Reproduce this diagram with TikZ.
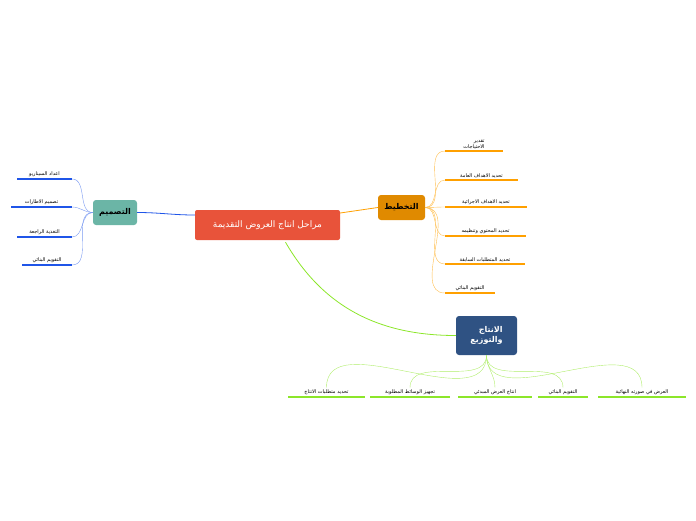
\documentclass[tikz,border=0pt]{standalone}
\usepackage{fontspec}
\setmainfont{Liberation Sans}
\newfontfamily\arabicfont[Script=Arabic]{DejaVu Sans}
\TeXXeTstate=1
\usetikzlibrary{positioning,calc}
\definecolor{rootred}{HTML}{E8533A}
\definecolor{planorange}{HTML}{E08A00}
\definecolor{designteal}{HTML}{6BB5A6}
\definecolor{prodblue}{HTML}{2F5283}
\definecolor{lineorange}{HTML}{FFA000}
\definecolor{lineblue}{HTML}{1F55E8}
\definecolor{linegreen}{HTML}{8CE62A}
\newcommand{\ar}[1]{{\arabicfont\beginR #1\endR}}
\begin{document}
\begin{tikzpicture}
[x=1pt,y=-1pt,
rootbox/.style={rectangle,rounded corners=2pt,fill=rootred,text=white,font=\small,minimum width=145pt,minimum height=30pt},
mainbox/.style={rectangle,rounded corners=3pt,font=\footnotesize\bfseries},
leaf/.style={font=\tiny,anchor=south,inner sep=2pt,align=right},
uline/.style={line width=2.2pt},
planlink/.style={draw=lineorange!70,thin},
designlink/.style={draw=lineblue!60,thin},
prodlink/.style={draw=linegreen!70,thin}]
\useasboundingbox (0,0) rectangle (696,520);
% root and main branches
\node[rootbox] (root) at (267.5,225) {\ar{مراحل انتاج العروض التقديمة}};
\node[mainbox,fill=planorange,minimum width=47pt,minimum height=25pt] (plan) at (401.5,207.5) {\ar{التخطيط}};
\node[mainbox,fill=designteal,minimum width=44pt,minimum height=25pt] (design) at (115,212.5) {\ar{التصميم}};
\node[mainbox,fill=prodblue,text=white,minimum width=61pt,minimum height=39pt,align=right] (prod) at (486.5,335.5) {\ar{الانتاج}\\\ar{والتوزيع}};
\draw[lineorange,thick] (root.east) ++(0,-12) -- (plan.west);
\draw[lineblue,thick] (root.west) ++(0,-10) to[out=180,in=0] (design.east);
\draw[linegreen,thick] (root.south) ++(18,2) to[out=-60,in=180] (prod.west);
% planning
\foreach \i/\y/\x/\t in {1/151/503/{\ar{تقدير}\\\ar{الاحتياجات}},2/180/518/{\ar{تحديد الاهداف العامة}},3/207/527/{\ar{تحديد الاهداف الاجرائية}},4/236/526/{\ar{تحديد المحتوي وتنظيمه}},5/264/525/{\ar{تحديد المتطلبات السابقة}},6/293/495/{\ar{التقويم البنائي}}}{
  \coordinate (p\i a) at (445,\y);
  \coordinate (p\i b) at (\x,\y);
  \draw[uline,lineorange] (p\i a) -- (p\i b);
  \node[leaf] (p\i) at ($(p\i a)!0.5!(p\i b)$) {\t};
  \draw[planlink] (plan.east) to[out=0,in=180] (p\i a);
}
% design
\foreach \i/\y/\x/\t in {1/179/17/{\ar{اعداد السيناريو}},2/207/11/{\ar{تصميم الاطارات}},3/237/17/{\ar{التغذية الراجعة}},4/265/22/{\ar{التقويم البنائي}}}{
  \coordinate (d\i a) at (\x,\y);
  \coordinate (d\i b) at (72,\y);
  \draw[uline,lineblue] (d\i a) -- (d\i b);
  \node[leaf] (d\i) at ($(d\i a)!0.5!(d\i b)$) {\t};
  \draw[designlink] (design.west) to[out=180,in=0] (d\i b);
}
% production
\foreach \i/\xa/\xb/\t in {1/598/686/{\ar{العرض في صورته النهائية}},2/538/588/{\ar{التقويم البنائي}},3/458/532/{\ar{انتاج العرض المبدئي}},4/370/450/{\ar{تجهيز الوسائط المطلوبة}},5/288/365/{\ar{تحديد متطلبات الانتاج}}}{
  \coordinate (r\i a) at (\xa,397);
  \coordinate (r\i b) at (\xb,397);
  \draw[uline,linegreen] (r\i a) -- (r\i b);
  \node[leaf] (r\i) at ($(r\i a)!0.5!(r\i b)$) {\t};
  \draw[prodlink] (prod.south) to[out=-90,in=90] (r\i.north);
}
\end{tikzpicture}
\end{document}
